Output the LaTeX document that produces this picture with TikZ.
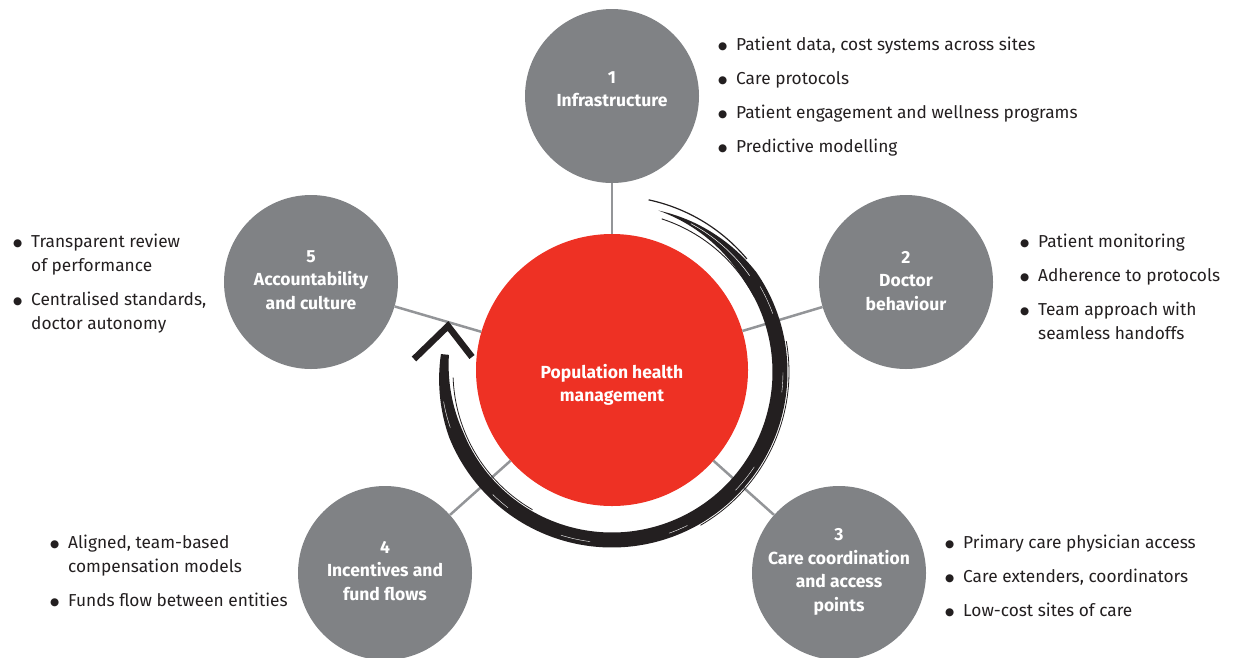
\documentclass[tikz,border=0pt]{standalone}
\usepackage{fontspec}
\setmainfont{Fira Sans}
\newfontfamily\symfont{DejaVu Sans}
\definecolor{hubred}{HTML}{EE3124}
\definecolor{pillargrey}{HTML}{808285}
\definecolor{linkgrey}{HTML}{939598}
\definecolor{ink}{HTML}{231F20}

% bullet and hanging indent for the side lists
\newcommand\lbul{\makebox[18pt][l]{\raisebox{0.5pt}{\symfont\fontsize{10.5}{10}\selectfont ●}}}
\newcommand\lind{\hspace*{18pt}}

\tikzset{
  hubnode/.style={circle, fill=hubred, minimum size=272pt, inner sep=0pt},
  pillarnode/.style={circle, fill=pillargrey, minimum size=174pt, inner sep=0pt},
  pillartext/.style={text=white, font=\fontsize{17.5}{23.5}\selectfont\bfseries, align=center, inner sep=0pt},
  linkline/.style={draw=linkgrey, line width=2.5pt},
  listtext/.style={font=\fontsize{17.3}{24}\selectfont, text=ink, inner sep=0pt, anchor=base west},
  brushfill/.style={fill=ink},
  declare function={bw(\t)=min(15,(74-\t)*0.38,8+(\t+186)*0.25);}
}

\begin{document}
\begin{tikzpicture}[x=1pt,y=-1pt]
\useasboundingbox (0,0) rectangle (1236,657);

% central hub and the five pillars
\node[hubnode] (hub) at (612,370) {};
\node[pillarnode] (c1) at (612,96) {};
\node[pillarnode] (c2) at (906,282) {};
\node[pillarnode] (c3) at (839,573) {};
\node[pillarnode] (c4) at (385,573) {};
\node[pillarnode] (c5) at (311,282) {};

% spokes
\draw[linkline] (hub) -- (c1);
\draw[linkline] (hub) -- (c2);
\draw[linkline] (hub) -- (c3);
\draw[linkline] (hub) -- (c4);
\draw[linkline] (hub) -- (c5);

% labels
\node[pillartext] (hubt) at (612,385) {Population health\\management};
\node[pillartext] (c1t) at (612,89) {1\\Infrastructure};
\node[pillartext] (c2t) at (906,281) {2\\Doctor\\behaviour};
\node[pillartext] (c3t) at (839,572) {3\\Care coordination\\and access\\points};
\node[pillartext] (c4t) at (385,571) {4\\Incentives and\\fund flows};
\node[pillartext] (c5t) at (311,280) {5\\Accountability\\and culture};

% brush-stroke cycle arrow around the hub
\fill[brushfill]
  plot[domain=74:-186, samples=160] ({612+(168+bw(\x)/2)*cos(\x)},{372-(168+bw(\x)/2)*sin(\x)})
  -- plot[domain=-186:74, samples=160] ({612+(168-bw(\x)/2)*cos(\x)},{372-(168-bw(\x)/2)*sin(\x)})
  -- cycle;
% frayed bristle traces along the stroke
\draw[ink, line width=1.2pt]
  plot[domain=78:40, samples=40] ({612+176*cos(\x)},{372-176*sin(\x)});
\draw[ink, line width=0.9pt]
  plot[domain=72:28, samples=40] ({612+161*cos(\x)},{372-161*sin(\x)});
\draw[ink, line width=0.8pt]
  plot[domain=-120:-178, samples=40] ({612+159*cos(\x)},{372-159*sin(\x)});
\draw[ink, line width=0.8pt]
  plot[domain=10:-60, samples=40] ({612+177*cos(\x)},{372-177*sin(\x)});
\draw[white, line width=0.5pt]
  plot[domain=62:35, samples=30] ({612+168*cos(\x)},{372-168*sin(\x)});
\draw[white, line width=0.4pt, dash pattern=on 30pt off 60pt on 20pt off 80pt]
  plot[domain=30:-170, samples=120] ({612+171*cos(\x)},{372-171*sin(\x)});
\draw[ink, line width=6.5pt, line join=miter, miter limit=10]
  (414,359) -- (448,326) -- (472,357);

% side lists
\node[listtext] (l1) at (718,50) {\begin{tabular}[t]{@{}l@{}}
  \lbul Patient data, cost systems across sites\\[10pt]
  \lbul Care protocols\\[10pt]
  \lbul Patient engagement and wellness programs\\[10pt]
  \lbul Predictive modelling
\end{tabular}};
\node[listtext] (l2) at (1020,247) {\begin{tabular}[t]{@{}l@{}}
  \lbul Patient monitoring\\[10pt]
  \lbul Adherence to protocols\\[10pt]
  \lbul Team approach with\\
  \lind seamless handoffs
\end{tabular}};
\node[listtext] (l3) at (945,548) {\begin{tabular}[t]{@{}l@{}}
  \lbul Primary care physician access\\[10pt]
  \lbul Care extenders, coordinators\\[10pt]
  \lbul Low-cost sites of care
\end{tabular}};
\node[listtext] (l4) at (50,548) {\begin{tabular}[t]{@{}l@{}}
  \lbul Aligned, team-based\\
  \lind compensation models\\[10pt]
  \lbul Funds flow between entities
\end{tabular}};
\node[listtext] (l5) at (13,247) {\begin{tabular}[t]{@{}l@{}}
  \lbul Transparent review\\
  \lind of performance\\[10pt]
  \lbul Centralised standards,\\
  \lind doctor autonomy
\end{tabular}};
\end{tikzpicture}
\end{document}
